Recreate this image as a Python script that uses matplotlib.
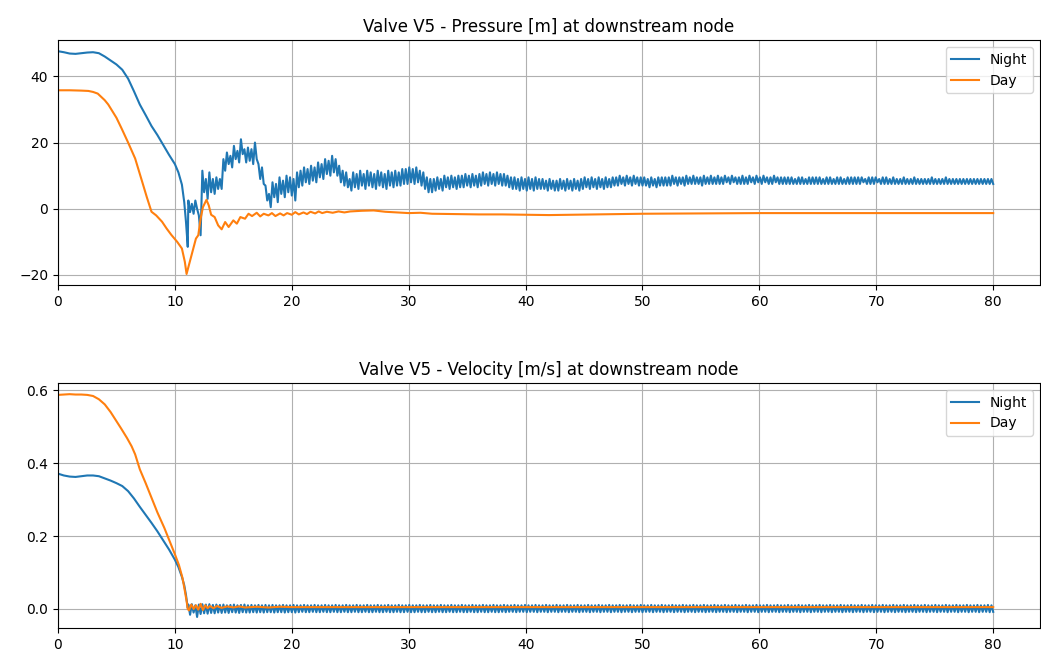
import numpy as np
import matplotlib
matplotlib.use("Agg")
import matplotlib.pyplot as plt

# ---------------------------------------------------------------------------
# Transient results for valve V5 (downstream node), two demand scenarios
# ---------------------------------------------------------------------------

# Night scenario: smooth part before the valve is fully shut
t_night_pre = [0.0, 0.5, 1.0, 1.5, 2.0, 2.5, 3.0, 3.5, 4.0, 4.5, 5.0, 5.5, 6.0,
               6.5, 7.0, 7.5, 8.0, 8.5, 9.0, 9.5, 10.0, 10.3, 10.6, 10.8,
               10.95, 11.1]
p_night_pre = [47.6, 47.3, 46.9, 46.8, 47.0, 47.2, 47.3, 47.0, 46.0, 44.8,
               43.6, 42.0, 39.3, 35.5, 31.5, 28.3, 25.0, 22.3, 19.3, 16.3,
               13.5, 11.0, 7.3, 2.0, -4.0, -11.5]
v_night_pre = [0.371, 0.366, 0.363, 0.362, 0.364, 0.366, 0.366, 0.364, 0.358,
               0.352, 0.345, 0.337, 0.323, 0.303, 0.280, 0.258, 0.236, 0.213,
               0.188, 0.163, 0.135, 0.115, 0.088, 0.065, 0.038, 0.003]

# Night scenario after closure: the signal rings quickly, so each 0.3 s slot
# holds a crest (at the slot start) and a trough (0.15 s later).
t_crest = np.linspace(11.15, 79.85, 230)
t_trough = np.linspace(11.30, 80.00, 230)

p_night_crest = [
    2.5, 1.5, 2.5, -2.0, 11.5, 9.0, 11.0, 9.0, 9.5, 9.0,
    15.0, 17.0, 16.0, 19.0, 17.5, 21.0, 18.0, 18.5, 18.0, 20.0,
    13.5, 12.5, 7.0, 4.5, 8.0, 7.5, 9.5, 8.5, 10.0, 9.5,
    9.0, 11.0, 11.5, 12.5, 12.0, 13.0, 12.5, 14.0, 13.5, 15.0,
    14.5, 16.0, 15.0, 13.0, 11.5, 11.0, 9.0, 11.0, 10.5, 11.5,
    10.5, 11.5, 11.0, 10.5, 11.5, 11.0, 10.5, 11.5, 11.0, 11.5,
    11.0, 12.0, 12.0, 12.5, 12.0, 12.5, 11.5, 11.0, 9.5, 9.0,
    9.0, 9.5, 9.0, 10.0, 9.5, 10.0, 9.5, 10.0, 10.0, 10.5,
    10.0, 10.5, 10.0, 10.5, 11.0, 10.5, 11.0, 10.5, 11.0, 10.5,
    10.5, 10.0, 9.5, 9.5, 9.0, 9.5, 9.0, 9.5, 9.0, 9.5,
    9.0, 9.0, 8.5, 9.0, 8.5, 8.5, 9.0, 8.5, 9.0, 8.5,
    9.0, 8.5, 9.0, 9.5, 9.0, 9.5, 9.0, 9.5, 9.0, 9.5,
    9.0, 9.5, 9.5, 10.0, 9.5, 10.0, 9.5, 10.0, 9.5, 9.5,
    9.5, 9.0, 9.5, 9.0, 9.5, 9.5, 9.5, 9.5, 10.0, 9.5,
    9.5, 9.5, 10.0, 9.5, 10.0, 9.5, 9.5, 10.0, 9.5, 10.0,
    9.5, 10.0, 9.5, 10.0, 9.5, 10.0, 9.5, 9.5, 10.0, 9.5,
    10.0, 9.5, 10.0, 9.5, 10.0, 9.5, 9.5, 10.0, 9.5, 9.5,
    9.5, 9.5, 9.5, 9.0, 9.5, 9.5, 9.0, 9.5, 9.5, 9.5,
    9.5, 9.0, 9.5, 9.5, 9.0, 9.5, 9.5, 9.0, 9.5, 9.5,
    9.5, 9.5, 9.5, 9.0, 9.5, 9.5, 9.5, 9.0, 9.5, 9.5,
    9.0, 9.5, 9.0, 9.0, 9.5, 9.0, 9.0, 9.5, 9.0, 9.0,
    9.0, 9.0, 9.5, 9.0, 9.0, 9.0, 9.5, 9.0, 9.0, 9.0,
    9.0, 9.0, 9.0, 9.0, 9.0, 9.0, 9.0, 9.0, 9.0, 9.0,
]
p_night_trough = [
    -1.0, -1.5, 0.0, -8.0, 5.0, 3.0, 5.0, 4.5, 6.0, 6.0,
    11.5, 13.5, 12.5, 15.0, 14.0, 16.5, 14.0, 14.5, 13.5, 15.0,
    9.0, 7.5, 2.5, 0.5, 3.5, 2.0, 4.5, 3.5, 5.0, 4.0,
    2.5, 6.5, 7.0, 8.0, 7.5, 8.5, 8.0, 9.5, 9.0, 10.5,
    10.0, 11.0, 10.0, 8.0, 7.0, 6.5, 5.5, 6.5, 6.0, 7.0,
    6.0, 7.0, 6.5, 6.0, 7.0, 6.5, 6.0, 7.0, 6.5, 7.0,
    7.0, 7.5, 7.5, 8.0, 7.5, 8.0, 7.0, 6.0, 5.0, 5.0,
    5.5, 6.0, 5.5, 6.5, 6.0, 6.5, 6.0, 6.5, 6.5, 7.0,
    6.5, 7.0, 6.5, 7.0, 7.5, 7.0, 7.5, 7.0, 7.5, 7.0,
    7.0, 6.5, 6.0, 6.0, 5.5, 6.0, 5.5, 6.0, 5.5, 6.0,
    6.0, 6.0, 5.5, 6.0, 5.5, 5.5, 6.0, 5.5, 6.0, 5.5,
    6.0, 5.5, 6.0, 6.5, 6.0, 6.5, 6.0, 6.5, 6.0, 6.5,
    6.5, 7.0, 7.0, 7.5, 7.0, 7.5, 7.0, 7.5, 7.0, 7.0,
    7.0, 6.5, 7.0, 6.5, 7.0, 7.0, 7.0, 7.0, 7.5, 7.0,
    7.5, 7.0, 7.5, 7.5, 7.5, 7.5, 7.0, 7.5, 7.5, 7.5,
    7.5, 7.5, 7.5, 8.0, 7.5, 8.0, 7.5, 7.5, 7.5, 7.5,
    8.0, 7.5, 8.0, 7.5, 8.0, 7.5, 7.5, 8.0, 7.5, 7.5,
    7.5, 7.5, 7.5, 7.5, 7.5, 7.5, 7.5, 7.5, 7.5, 7.5,
    7.5, 7.5, 7.5, 7.5, 7.5, 7.5, 7.5, 7.5, 7.5, 7.5,
    7.5, 7.5, 8.0, 7.5, 7.5, 7.5, 8.0, 7.5, 7.5, 7.5,
    7.5, 7.5, 7.5, 7.5, 7.5, 7.5, 7.5, 7.5, 7.5, 7.5,
    7.5, 7.5, 7.5, 7.5, 7.5, 7.5, 7.5, 7.5, 7.5, 7.5,
    7.5, 7.5, 7.5, 7.5, 7.5, 7.5, 7.5, 7.5, 7.5, 7.5,
]

v_night_crest = [
    0.012, 0.013, 0.010, 0.012, 0.013, 0.012, 0.013, 0.011, 0.012, 0.011,
    0.012, 0.010, 0.011, 0.012, 0.010, 0.011, 0.012, 0.010, 0.011, 0.010,
    0.011, 0.010, 0.011, 0.010, 0.011, 0.010, 0.010, 0.011, 0.010, 0.010,
    0.011, 0.010, 0.010, 0.011, 0.010, 0.010, 0.011, 0.010, 0.010, 0.011,
    0.010, 0.010, 0.011, 0.010, 0.010, 0.011, 0.010, 0.010, 0.011, 0.010,
    0.010, 0.011, 0.010, 0.010, 0.011, 0.010, 0.010, 0.011, 0.010, 0.010,
    0.011, 0.010, 0.010, 0.011, 0.010, 0.010, 0.011, 0.010, 0.010, 0.011,
    0.010, 0.010, 0.011, 0.010, 0.010, 0.011, 0.010, 0.010, 0.011, 0.010,
    0.010, 0.011, 0.010, 0.010, 0.011, 0.010, 0.010, 0.011, 0.010, 0.010,
    0.011, 0.010, 0.010, 0.011, 0.010, 0.010, 0.011, 0.010, 0.010, 0.011,
    0.010, 0.010, 0.011, 0.010, 0.010, 0.011, 0.010, 0.010, 0.011, 0.010,
    0.010, 0.011, 0.010, 0.010, 0.011, 0.010, 0.010, 0.011, 0.010, 0.010,
    0.011, 0.010, 0.010, 0.011, 0.010, 0.010, 0.011, 0.010, 0.010, 0.011,
    0.010, 0.010, 0.011, 0.010, 0.010, 0.011, 0.010, 0.010, 0.011, 0.010,
    0.010, 0.011, 0.010, 0.010, 0.011, 0.010, 0.010, 0.011, 0.010, 0.010,
    0.011, 0.010, 0.010, 0.011, 0.010, 0.010, 0.011, 0.010, 0.010, 0.011,
    0.010, 0.010, 0.011, 0.010, 0.010, 0.011, 0.010, 0.010, 0.011, 0.010,
    0.010, 0.011, 0.010, 0.010, 0.011, 0.010, 0.010, 0.011, 0.010, 0.010,
    0.011, 0.010, 0.010, 0.011, 0.010, 0.010, 0.011, 0.010, 0.010, 0.011,
    0.010, 0.010, 0.011, 0.010, 0.010, 0.011, 0.010, 0.010, 0.011, 0.010,
    0.010, 0.011, 0.010, 0.010, 0.011, 0.010, 0.010, 0.011, 0.010, 0.010,
    0.011, 0.010, 0.010, 0.011, 0.010, 0.010, 0.011, 0.010, 0.010, 0.011,
    0.010, 0.010, 0.011, 0.010, 0.010, 0.011, 0.010, 0.010, 0.011, 0.010,
]
v_night_trough = [
    -0.016, -0.010, -0.022, -0.014, -0.012, -0.013, -0.011, -0.012, -0.010, -0.011,
    -0.010, -0.011, -0.009, -0.010, -0.011, -0.009, -0.010, -0.010, -0.009, -0.010,
    -0.009, -0.010, -0.009, -0.009, -0.010, -0.009, -0.009, -0.010, -0.009, -0.009,
    -0.010, -0.009, -0.008, -0.009, -0.009, -0.008, -0.009, -0.009, -0.008, -0.009,
    -0.009, -0.008, -0.009, -0.009, -0.008, -0.009, -0.009, -0.008, -0.009, -0.009,
    -0.008, -0.009, -0.009, -0.008, -0.009, -0.009, -0.008, -0.009, -0.009, -0.008,
    -0.009, -0.009, -0.008, -0.009, -0.009, -0.008, -0.009, -0.009, -0.008, -0.009,
    -0.009, -0.008, -0.009, -0.009, -0.008, -0.009, -0.009, -0.008, -0.009, -0.009,
    -0.008, -0.009, -0.009, -0.008, -0.009, -0.009, -0.008, -0.009, -0.009, -0.008,
    -0.009, -0.008, -0.008, -0.009, -0.008, -0.008, -0.009, -0.008, -0.008, -0.009,
    -0.008, -0.008, -0.009, -0.008, -0.008, -0.009, -0.008, -0.008, -0.009, -0.008,
    -0.008, -0.009, -0.008, -0.008, -0.009, -0.008, -0.008, -0.009, -0.008, -0.008,
    -0.009, -0.008, -0.008, -0.009, -0.008, -0.008, -0.009, -0.008, -0.008, -0.009,
    -0.008, -0.008, -0.009, -0.008, -0.008, -0.009, -0.008, -0.008, -0.009, -0.008,
    -0.008, -0.009, -0.008, -0.008, -0.009, -0.008, -0.008, -0.009, -0.008, -0.008,
    -0.009, -0.008, -0.008, -0.009, -0.008, -0.008, -0.009, -0.008, -0.008, -0.009,
    -0.008, -0.008, -0.009, -0.008, -0.008, -0.009, -0.008, -0.008, -0.009, -0.008,
    -0.008, -0.009, -0.008, -0.008, -0.009, -0.008, -0.008, -0.009, -0.008, -0.008,
    -0.009, -0.008, -0.008, -0.009, -0.008, -0.008, -0.009, -0.008, -0.008, -0.009,
    -0.008, -0.008, -0.009, -0.008, -0.008, -0.009, -0.008, -0.008, -0.009, -0.008,
    -0.008, -0.009, -0.008, -0.008, -0.009, -0.008, -0.008, -0.009, -0.008, -0.008,
    -0.009, -0.008, -0.008, -0.009, -0.008, -0.008, -0.009, -0.008, -0.008, -0.009,
    -0.008, -0.008, -0.009, -0.008, -0.008, -0.009, -0.008, -0.008, -0.009, -0.008,
]

# Day scenario: pressure
t_day_p = [0.0, 1.0, 2.0, 2.6, 3.0, 3.4, 4.0, 4.3, 5.0, 5.45, 6.0, 6.6, 7.2,
           7.6, 8.0, 8.4, 8.9, 9.3, 9.7, 10.2, 10.6, 10.85, 11.0, 11.2, 11.5,
           11.8, 12.0, 12.2, 12.4, 12.7, 12.9, 13.1, 13.4, 13.7, 14.0, 14.3,
           14.6, 15.0, 15.3, 15.6, 16.0, 16.3, 16.6, 17.0, 17.3, 17.6, 18.0,
           18.3, 18.6, 19.0, 19.3, 19.6, 20.0, 20.3, 20.6, 21.0, 21.3, 21.6,
           22.0, 22.3, 22.6, 23.0, 23.5, 24.0, 24.5, 25.0, 26.0, 27.0, 28.0,
           29.0, 30.0, 31.0, 32.0, 34.0, 36.0, 38.0, 40.0, 42.0, 44.0, 46.0,
           48.0, 50.0, 55.0, 60.0, 65.0, 70.0, 75.0, 80.0]
p_day = [35.8, 35.8, 35.7, 35.6, 35.3, 34.8, 32.8, 31.5, 27.5, 24.2, 20.0,
         15.2, 8.2, 3.5, -0.9, -2.0, -3.9, -6.0, -7.9, -10.0, -12.0, -16.0,
         -19.7, -17.0, -13.0, -9.0, -8.0, -3.0, 0.5, 2.7, 1.0, -1.8, -2.5,
         -5.0, -6.2, -4.0, -5.5, -3.5, -4.5, -2.5, -3.0, -1.5, -2.2, -1.2,
         -2.3, -1.5, -2.0, -1.3, -2.2, -1.4, -2.0, -1.3, -1.8, -1.0, -1.7,
         -1.1, -1.6, -0.9, -1.4, -0.8, -1.3, -0.9, -1.2, -0.8, -1.1, -0.8,
         -0.6, -0.5, -0.9, -1.1, -1.3, -1.2, -1.5, -1.6, -1.7, -1.7, -1.8,
         -1.9, -1.8, -1.7, -1.6, -1.5, -1.4, -1.3, -1.3, -1.3, -1.3, -1.3]

# Day scenario: velocity
t_day_v = [0.0, 0.5, 1.0, 1.5, 2.0, 2.5, 3.0, 3.5, 4.0, 4.5, 4.9, 5.4, 5.9,
           6.3, 6.6, 7.0, 7.5, 8.0, 8.5, 9.1, 9.5, 10.0, 10.35, 10.65, 10.85,
           11.0, 11.1, 11.2, 11.4, 11.6, 11.8, 12.0, 12.2, 12.4, 12.6, 12.8,
           13.0, 13.3, 13.6, 14.0, 14.5, 15.0, 15.5, 16.0, 17.0, 18.0, 19.0,
           20.0, 25.0, 30.0, 40.0, 50.0, 60.0, 70.0, 80.0]
v_day = [0.587, 0.588, 0.589, 0.588, 0.588, 0.587, 0.584, 0.575, 0.561,
         0.540, 0.520, 0.495, 0.469, 0.446, 0.424, 0.383, 0.345, 0.305, 0.265,
         0.222, 0.190, 0.150, 0.120, 0.085, 0.050, 0.022, 0.000, -0.004,
         0.012, 0.000, 0.010, -0.002, 0.014, -0.003, 0.010, 0.002, 0.008,
         0.002, 0.008, 0.003, 0.007, 0.004, 0.007, 0.004, 0.006, 0.004, 0.006,
         0.005, 0.005, 0.005, 0.005, 0.005, 0.005, 0.005, 0.005]

titles = ["Valve V5 - Pressure [m] at downstream node",
          "Valve V5 - Velocity [m/s] at downstream node"]
labels = ["Night", "Day"]


# ---------------------------------------------------------------------------
def ringing(t_pre, y_pre, crest, trough):
    """Join the smooth lead-in with the alternating crest/trough samples."""
    t_post = np.empty(2 * len(t_crest))
    y_post = np.empty(2 * len(t_crest))
    t_post[0::2], t_post[1::2] = t_crest, t_trough
    y_post[0::2], y_post[1::2] = crest, trough
    return (np.concatenate([t_pre, t_post]),
            np.concatenate([y_pre, y_post]))


t_np, p_night = ringing(t_night_pre, p_night_pre, p_night_crest, p_night_trough)
t_nv, v_night = ringing(t_night_pre, v_night_pre, v_night_crest, v_night_trough)

fig = plt.figure(figsize=(10.41, 6.57), dpi=100)
ax1 = fig.add_axes([0.0557, 0.566, 0.9433, 0.373])
ax2 = fig.add_axes([0.0557, 0.044, 0.9433, 0.373])

ax1.plot(t_np, p_night, color="C0", lw=1.5, label=labels[0])
ax1.plot(t_day_p, p_day, color="C1", lw=1.5, label=labels[1])
ax2.plot(t_nv, v_night, color="C0", lw=1.5, label=labels[0])
ax2.plot(t_day_v, v_day, color="C1", lw=1.5, label=labels[1])

for ax, title in zip((ax1, ax2), titles):
    ax.set_title(title, fontsize=12)
    ax.grid(True)
    ax.legend(loc="upper right")
    ax.set_xlim(left=0)
    ax.set_xticks(range(0, 81, 10))

ax1.set_yticks([-20, 0, 20, 40])
ax2.set_yticks([0.0, 0.2, 0.4, 0.6])

fig.savefig("out.png", dpi=100)
